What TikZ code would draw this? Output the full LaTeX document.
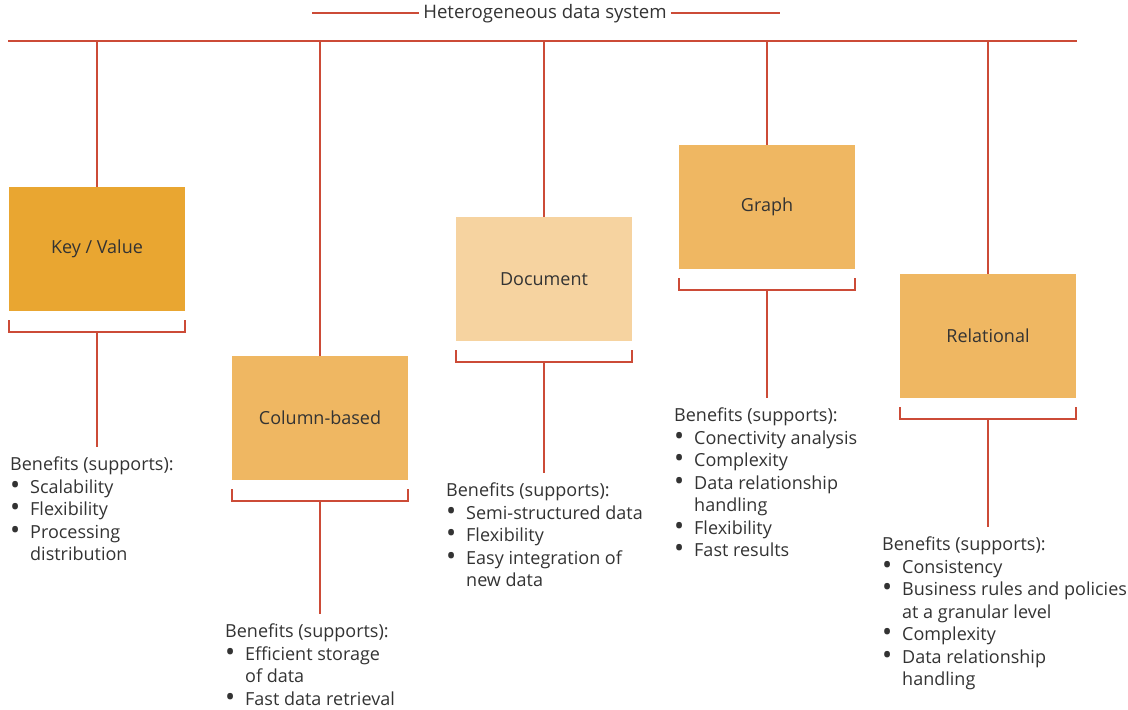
\documentclass[tikz,border=0pt]{standalone}
\usepackage{fontspec}
\setmainfont{Open Sans}
\usetikzlibrary{calc}
\definecolor{wirered}{HTML}{CC4B37}
\definecolor{kvfill}{HTML}{E9A631}
\definecolor{midfill}{HTML}{EFB762}
\definecolor{docfill}{HTML}{F6D3A0}
\definecolor{txtgray}{HTML}{333333}
\tikzset{
  wire/.style={draw=wirered,line width=2pt},
  dbbox/.style={minimum width=176pt,minimum height=124pt,inner sep=0pt,text=txtgray},
  benefits/.style={anchor=north west,align=left,inner sep=0pt,text=txtgray},
}
\newcommand{\itm}[1]{\makebox[20pt][l]{\smash{\raisebox{-0.6pt}{\scalebox{1.5}{\textbullet}}}}#1}
\newcommand{\cnt}[1]{\makebox[20pt]{}#1}
\begin{document}
\begin{tikzpicture}[x=1pt,y=-1pt,font=\fontsize{18}{22.5}\selectfont]
\useasboundingbox (0,0) rectangle (1128,710);

%%% Title and bus line

\node[text=txtgray,inner sep=4pt,font=\fontsize{18.6}{22}\selectfont] (title) at (545,14) {Heterogeneous data system}; % title
\coordinate (titleL) at (312,13);
\coordinate (titleR) at (780,13);
\draw[wire] (titleL) -- (titleL -| title.west); % left title line
\draw[wire] (titleR -| title.east) -- (titleR); % right title line
\coordinate (busL) at (8,41);
\coordinate (busR) at (1077,41);
\draw[wire] (busL) -- (busR); % bus

% Data stores

\node[dbbox,fill=kvfill] (kv) at (97,249) {Key / Value};
\node[dbbox,fill=midfill] (col) at (320,418) {Column-based};
\node[dbbox,fill=docfill] (doc) at (544,279) {Document};
\node[dbbox,fill=midfill] (graph) at (767,207) {Graph};
\node[dbbox,fill=midfill] (rel) at (988,336) {Relational};

% Benefits lists

\node[benefits] (kv-ben) at (10,457) {Benefits (supports):\\ \itm{Scalability}\\ \itm{Flexibility}\\ \itm{Processing}\\ \cnt{distribution}};
\node[benefits] (col-ben) at (225,624) {Benefits (supports):\\ \itm{Efficient storage}\\ \cnt{of data}\\ \itm{Fast data retrieval}};
\node[benefits] (doc-ben) at (446,483) {Benefits (supports):\\ \itm{Semi-structured data}\\ \itm{Flexibility}\\ \itm{Easy integration of}\\ \cnt{new data}};
\node[benefits] (graph-ben) at (674,408) {Benefits (supports):\\ \itm{Conectivity analysis}\\ \itm{Complexity}\\ \itm{Data relationship}\\ \cnt{handling}\\ \itm{Flexibility}\\ \itm{Fast results}};
\node[benefits] (rel-ben) at (882,537) {Benefits (supports):\\ \itm{Consistency}\\ \itm{Business rules and policies}\\ \cnt{at a granular level}\\ \itm{Complexity}\\ \itm{Data relationship}\\ \cnt{handling}};

% Wiring: drop from bus, bracket under box, stem to list
\foreach \b in {kv,col,doc,graph,rel}{
  \draw[wire] (\b.north) -- (\b.north |- busL);
  \draw[wire] ($(\b.south west)+(0,9)$) -- ++(0,12) -| ($(\b.south east)+(0,9)$);
  \draw[wire,shorten >=10pt] ($(\b.south)+(0,21)$) -- (\b.south |- \b-ben.north);
}
\end{tikzpicture}
\end{document}
